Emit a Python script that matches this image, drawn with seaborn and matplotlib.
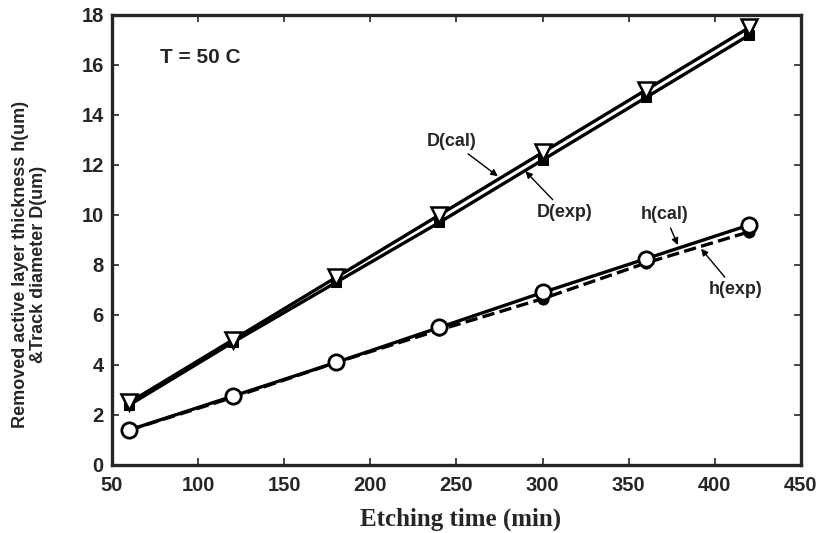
import matplotlib
matplotlib.use("Agg")
import matplotlib.pyplot as plt
import seaborn as sns
import pandas as pd

time_min = [60, 120, 180, 240, 300, 360, 420]
D_cal = [2.5, 5.0, 7.5, 10.0, 12.5, 15.0, 17.5]
D_exp = [2.4, 4.9, 7.3, 9.7, 12.2, 14.7, 17.2]
h_cal = [1.4, 2.75, 4.1, 5.5, 6.9, 8.25, 9.6]
h_exp = [1.4, 2.7, 4.1, 5.4, 6.65, 8.08, 9.33]

x_ticks = [50, 100, 150, 200, 250, 300, 350, 400, 450]
y_ticks = [0, 2, 4, 6, 8, 10, 12, 14, 16, 18]

sns.set_style("ticks")
plt.rcParams['font.family'] = ['Liberation Sans', 'DejaVu Sans']
plt.rcParams['xtick.direction'] = 'in'
plt.rcParams['ytick.direction'] = 'in'

fig = plt.figure(figsize=(8.26, 5.33), dpi=100)
ax = fig.add_axes([0.1356, 0.1276, 0.9697 - 0.1356, 0.9719 - 0.1276])

df = pd.DataFrame({"t": time_min, "D_cal": D_cal, "D_exp": D_exp,
                   "h_cal": h_cal, "h_exp": h_exp})

lw = 2.4
sns.lineplot(data=df, x="t", y="D_cal", ax=ax, color="black", lw=lw,
             marker="v", markersize=11, markerfacecolor="white",
             markeredgecolor="black", markeredgewidth=1.8, zorder=3)
sns.lineplot(data=df, x="t", y="D_exp", ax=ax, color="black", lw=lw,
             marker="s", markersize=7, markerfacecolor="black",
             markeredgecolor="black", zorder=2)
sns.lineplot(data=df, x="t", y="h_exp", ax=ax, color="black", lw=lw,
             linestyle="--", marker="o", markersize=8,
             markerfacecolor="black", markeredgecolor="black", zorder=2)
sns.lineplot(data=df, x="t", y="h_cal", ax=ax, color="black", lw=lw,
             marker="o", markersize=11, markerfacecolor="white",
             markeredgecolor="black", markeredgewidth=2, zorder=3)

ax.set_xlim(50, 450)
ax.set_ylim(0, 18)
ax.set_xticks(x_ticks)
ax.set_yticks(y_ticks)
ax.tick_params(axis="both", which="both", top=True, right=True,
               labelsize=14.5, length=5, width=1.2)
ax.tick_params(axis="x", pad=8)
ax.tick_params(axis="y", pad=6)
for lab in ax.get_xticklabels() + ax.get_yticklabels():
    lab.set_fontweight("bold")
for s in ax.spines.values():
    s.set_visible(True)
    s.set_linewidth(2.4)

ax.set_xlabel("Etching time (min)", family=["Liberation Serif", "DejaVu Serif"],
              fontsize=18, fontweight="bold")
ax.xaxis.set_label_coords(0.5065, -0.095)
ax.set_ylabel("Removed active layer thickness h(um)\n&Track diameter D(um)",
              fontsize=13, fontweight="bold", linespacing=1.1)
ax.yaxis.set_label_coords(-0.094, 0.445)

ax.text(78, 16.3, "T = 50 C", fontsize=15, fontweight="bold", va="center")

arrow = dict(arrowstyle="-|>", color="black", lw=1, mutation_scale=10,
             shrinkA=1, shrinkB=0)
ax.annotate("D(cal)", xy=(274, 11.55), xytext=(247, 12.95), fontsize=13,
            fontweight="bold", ha="center", va="center", arrowprops=arrow)
ax.annotate("D(exp)", xy=(290, 11.75), xytext=(313, 10.1), fontsize=13,
            fontweight="bold", ha="center", va="center", arrowprops=arrow)
ax.annotate("h(cal)", xy=(378.5, 8.8), xytext=(371, 10.0), fontsize=13,
            fontweight="bold", ha="center", va="center", arrowprops=arrow)
ax.annotate("h(exp)", xy=(392, 8.65), xytext=(412, 7.0), fontsize=13,
            fontweight="bold", ha="center", va="center", arrowprops=arrow)

fig.savefig("out.png", dpi=100)
